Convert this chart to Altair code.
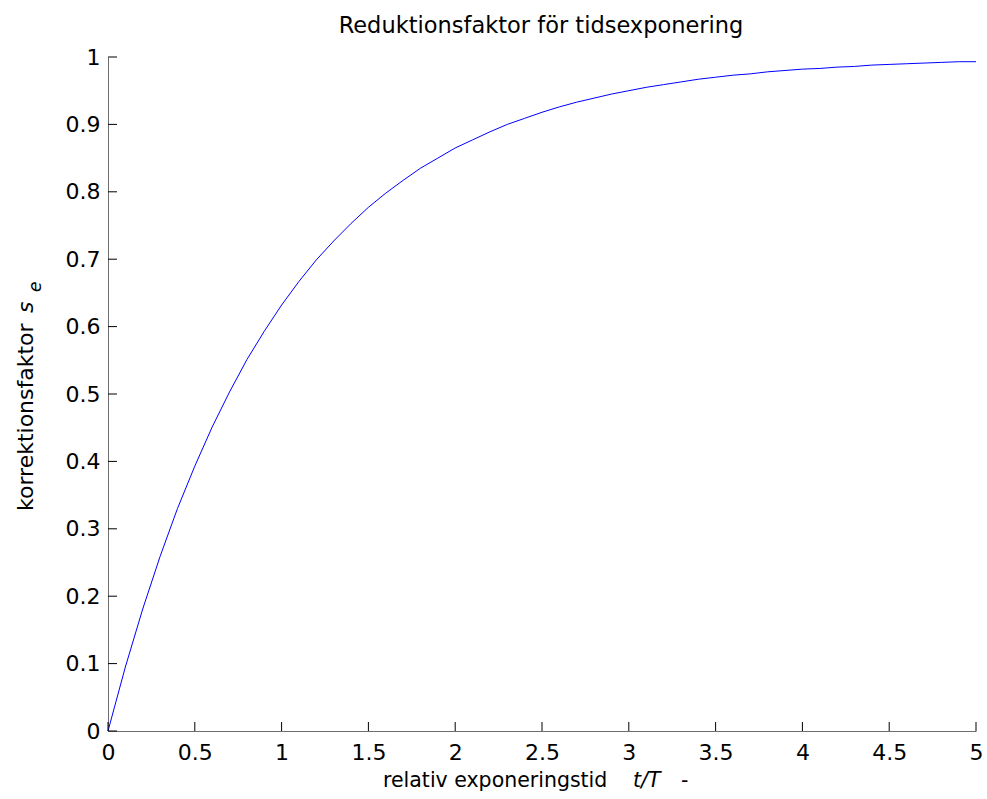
import altair as alt
import pandas as pd

# data
t_vals = [0.0, 0.1, 0.2, 0.3, 0.4, 0.5, 0.6, 0.7, 0.8, 0.9, 1.0, 1.1, 1.2, 1.3, 1.4, 1.5,
          1.6, 1.7, 1.8, 1.9, 2.0, 2.1, 2.2, 2.3, 2.4, 2.5, 2.6, 2.7, 2.8, 2.9, 3.0,
          3.1, 3.2, 3.3, 3.4, 3.5, 3.6, 3.7, 3.8, 3.9, 4.0, 4.1, 4.2, 4.3, 4.4, 4.5,
          4.6, 4.7, 4.8, 4.9, 5.0]
se_vals = [0.0, 0.095, 0.181, 0.259, 0.330, 0.393, 0.451, 0.503, 0.551, 0.593, 0.632,
           0.667, 0.699, 0.727, 0.753, 0.777, 0.798, 0.817, 0.835, 0.850, 0.865,
           0.877, 0.889, 0.900, 0.909, 0.918, 0.926, 0.933, 0.939, 0.945, 0.950,
           0.955, 0.959, 0.963, 0.967, 0.970, 0.973, 0.975, 0.978, 0.980, 0.982,
           0.983, 0.985, 0.986, 0.988, 0.989, 0.990, 0.991, 0.992, 0.993, 0.993]
x_ticks = [0, 0.5, 1, 1.5, 2, 2.5, 3, 3.5, 4, 4.5, 5]
y_ticks = [0, 0.1, 0.2, 0.3, 0.4, 0.5, 0.6, 0.7, 0.8, 0.9, 1]

W, H = 868, 674
LEFT, TOP = 108, 57
FONT = "DejaVu Sans"

df = pd.DataFrame({"t": t_vals, "se": se_vals})
xt = pd.DataFrame({"v": x_ticks})
yt = pd.DataFrame({"v": y_ticks})

xs = alt.Scale(domain=[0, 5], nice=False, zero=False)
ys = alt.Scale(domain=[0, 1], nice=False, zero=False)

line = alt.Chart(df).mark_line(color="#0000ff", strokeWidth=1).encode(
    x=alt.X("t:Q", scale=xs, axis=alt.Axis(
        values=x_ticks, title=None, tickSize=0, labelFontSize=22, labelFont=FONT,
        labelColor="black", labelPadding=11, domainColor="#6e6e6e", grid=False,
        labelFlush=False, format="~g")),
    y=alt.Y("se:Q", scale=ys, axis=alt.Axis(
        values=y_ticks, title=None, tickSize=0, labelFontSize=22, labelFont=FONT,
        labelColor="black", labelPadding=8, domainColor="#6e6e6e", grid=False,
        labelFlush=False, format="~g")),
)

xtick = alt.Chart(xt).mark_rule(color="black", strokeWidth=1).encode(
    x=alt.X("v:Q", scale=xs), y=alt.value(H), y2=alt.value(H - 9))
ytick = alt.Chart(yt).mark_rule(color="black", strokeWidth=1).encode(
    y=alt.Y("v:Q", scale=ys), x=alt.value(0), x2=alt.value(9))

def txt(s, x, y, size=22, style="normal", angle=0, align="left", baseline="alphabetic"):
    return alt.Chart(pd.DataFrame({"s": [s]})).mark_text(
        font=FONT, fontSize=size, fontStyle=style, angle=angle, align=align,
        baseline=baseline, color="black").encode(
        text="s:N", x=alt.value(x - LEFT), y=alt.value(y - TOP))

# x axis title
xt1 = txt("relativ exponeringstid", 383, 787, size=20.5)
xt2 = txt("t/T", 633, 787, size=20.5, style="italic")
xt3 = txt("-", 681, 787, size=20.5)
# y axis title (rotated)
yt1 = txt("korrektionsfaktor", 33, 511, angle=270)
yt2 = txt("s", 33, 313, angle=270, style="italic")
yt3 = txt("e", 41, 292, angle=270, style="italic", size=17)
title = txt("Reduktionsfaktor för tidsexponering", 541, 33, size=22.5, align="center")

chart = alt.layer(line, xtick, ytick, xt1, xt2, xt3, yt1, yt2, yt3, title).properties(
    width=W, height=H,
    autosize=alt.AutoSizeParams(type="none"),
    padding={"left": LEFT, "top": TOP, "right": 11, "bottom": 68},
    background="white",
).configure_view(stroke=None)

chart.save("out.html", embed_options={"renderer": "svg", "actions": False})
